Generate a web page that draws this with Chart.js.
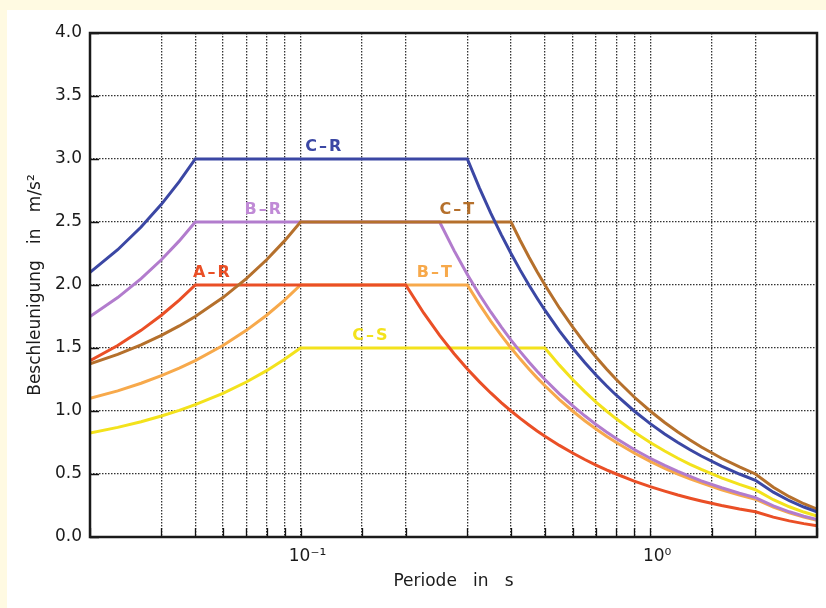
<!DOCTYPE html>
<html>
<head>
<meta charset="utf-8">
<script src="https://cdn.jsdelivr.net/npm/chart.js@4"></script>
<style>
  html, body { margin: 0; padding: 0; }
  body { width: 826px; height: 608px; background: #fffae2; position: relative; overflow: hidden; }
  #panel { position: absolute; left: 7px; top: 10px; width: 819px; height: 598px; background: #ffffff; }
</style>
</head>
<body>
<div id="panel"><canvas id="spectrumChart"></canvas></div>
<script>
// periods in s
const periods = [0.025, 0.03, 0.035, 0.04, 0.045, 0.05, 0.06, 0.07, 0.08, 0.09, 0.1,
  0.15, 0.2,
  0.225, 0.25, 0.275, 0.3,
  0.325, 0.35, 0.375, 0.4,
  0.425, 0.45, 0.475, 0.5,
  0.55, 0.6, 0.65, 0.7, 0.75, 0.8,
  0.9, 1.0, 1.1, 1.2, 1.3, 1.4,
  1.6, 1.8, 2.0,
  2.25, 2.5, 2.75, 3.0];

// acceleration in m/s^2, one array per ground combination
const accAR = [1.40, 1.52, 1.64, 1.76, 1.88, 2.00, 2.00, 2.00, 2.00, 2.00, 2.00,
  2.00, 2.00,
  1.778, 1.600, 1.455, 1.333,
  1.231, 1.143, 1.067, 1.000,
  0.941, 0.889, 0.842, 0.800,
  0.727, 0.667, 0.615, 0.571, 0.533, 0.500,
  0.444, 0.400, 0.364, 0.333, 0.308, 0.286,
  0.250, 0.222, 0.200,
  0.158, 0.128, 0.106, 0.089];
const accBR = [1.75, 1.90, 2.05, 2.20, 2.35, 2.50, 2.50, 2.50, 2.50, 2.50, 2.50,
  2.50, 2.50,
  2.50, 2.50, 2.273, 2.083,
  1.923, 1.786, 1.667, 1.563,
  1.471, 1.389, 1.316, 1.250,
  1.136, 1.042, 0.962, 0.893, 0.833, 0.781,
  0.694, 0.625, 0.568, 0.521, 0.481, 0.446,
  0.391, 0.347, 0.313,
  0.247, 0.200, 0.165, 0.139];
const accCR = [2.10, 2.28, 2.46, 2.64, 2.82, 3.00, 3.00, 3.00, 3.00, 3.00, 3.00,
  3.00, 3.00,
  3.00, 3.00, 3.00, 3.00,
  2.769, 2.571, 2.400, 2.250,
  2.118, 2.000, 1.895, 1.800,
  1.636, 1.500, 1.385, 1.286, 1.200, 1.125,
  1.000, 0.900, 0.818, 0.750, 0.692, 0.643,
  0.563, 0.500, 0.450,
  0.356, 0.288, 0.238, 0.200];
const accBT = [1.10, 1.16, 1.22, 1.28, 1.34, 1.40, 1.52, 1.64, 1.76, 1.88, 2.00,
  2.00, 2.00,
  2.00, 2.00, 2.00, 2.00,
  1.846, 1.714, 1.600, 1.500,
  1.412, 1.333, 1.263, 1.200,
  1.091, 1.000, 0.923, 0.857, 0.800, 0.750,
  0.667, 0.600, 0.545, 0.500, 0.462, 0.429,
  0.375, 0.333, 0.300,
  0.237, 0.192, 0.159, 0.133];
const accCT = [1.375, 1.45, 1.525, 1.60, 1.675, 1.75, 1.90, 2.05, 2.20, 2.35, 2.50,
  2.50, 2.50,
  2.50, 2.50, 2.50, 2.50,
  2.50, 2.50, 2.50, 2.50,
  2.353, 2.222, 2.105, 2.000,
  1.818, 1.667, 1.538, 1.429, 1.333, 1.250,
  1.111, 1.000, 0.909, 0.833, 0.769, 0.714,
  0.625, 0.556, 0.500,
  0.395, 0.320, 0.264, 0.222];
const accCS = [0.825, 0.87, 0.915, 0.96, 1.005, 1.05, 1.14, 1.23, 1.32, 1.41, 1.50,
  1.50, 1.50,
  1.50, 1.50, 1.50, 1.50,
  1.50, 1.50, 1.50, 1.50,
  1.50, 1.50, 1.50, 1.50,
  1.364, 1.250, 1.154, 1.071, 1.000, 0.938,
  0.833, 0.750, 0.682, 0.625, 0.577, 0.536,
  0.469, 0.417, 0.375,
  0.296, 0.240, 0.198, 0.167];

const seriesNames = ['C–R', 'C–T', 'B–R', 'A–R', 'B–T', 'C–S'];
const seriesValues = [accCR, accCT, accBR, accAR, accBT, accCS];
const seriesColors = ['#3b47a4', '#b5702c', '#b27ccd', '#ea4f26', '#f7a94b', '#f3e21c'];
const labelColors = ['#3b47a4', '#b5702c', '#c08ad6', '#ea4f26', '#f7a94b', '#f3e21c'];
// period where each curve name is written above its plateau
const labelPeriods = [0.117, 0.282, 0.0785, 0.056, 0.243, 0.159];

const yTicks = [0, 0.5, 1, 1.5, 2, 2.5, 3, 3.5, 4];

const FONT = '"DejaVu Sans", "Liberation Sans", sans-serif';

const frame = {
  id: 'frame',
  afterDraw(chart) {
    const {ctx, chartArea: a, scales} = chart;
    ctx.save();
    // short solid tick marks inside the plot
    ctx.strokeStyle = '#111';
    ctx.lineWidth = 1.3;
    ctx.beginPath();
    scales.x.ticks.forEach(t => {
      const px = Math.round(scales.x.getPixelForValue(t.value)) + 0.5;
      ctx.moveTo(px, a.bottom);
      ctx.lineTo(px, a.bottom - 9);
    });
    yTicks.forEach(v => {
      const py = Math.round(scales.y.getPixelForValue(v)) + 0.5;
      ctx.moveTo(a.left, py);
      ctx.lineTo(a.left + 9, py);
    });
    ctx.stroke();
    // box
    ctx.lineWidth = 2.5;
    ctx.strokeStyle = '#1a1a1a';
    ctx.strokeRect(a.left, a.top, a.right - a.left, a.bottom - a.top);
    // curve names
    ctx.font = 'bold 16px ' + FONT;
    ctx.textAlign = 'center';
    ctx.textBaseline = 'middle';
    if ('letterSpacing' in ctx) ctx.letterSpacing = '2px';
    seriesNames.forEach((name, i) => {
      const x = scales.x.getPixelForValue(labelPeriods[i]);
      const y = scales.y.getPixelForValue(Math.max(...seriesValues[i]));
      ctx.fillStyle = labelColors[i];
      ctx.fillText(name, x, y - 12);
    });
    ctx.restore();
  }
};

const ctx = document.getElementById('spectrumChart').getContext('2d');
const chart = new Chart(ctx, {
  type: 'line',
  data: {
    datasets: seriesNames.map((name, i) => ({
      label: name,
      data: periods.map((t, j) => ({x: t, y: seriesValues[i][j]})),
      borderColor: seriesColors[i],
      borderWidth: 3,
      pointRadius: 0,
      tension: 0,
      fill: false
    }))
  },
  options: {
    responsive: true,
    maintainAspectRatio: false,
    animation: false,
    layout: {padding: {top: 23, right: 4, left: 0, bottom: 0}},
    plugins: {
      legend: {display: false},
      tooltip: {enabled: false}
    },
    scales: {
      x: {
        type: 'logarithmic',
        min: 0.025,
        max: 3,
        border: {display: false, dash: [1.5, 1.5]},
        grid: {color: '#333', lineWidth: 1.3, drawTicks: false},
        ticks: {
          autoSkip: false,
          maxRotation: 0,
          padding: 9,
          labelOffset: 7,
          color: '#1a1a1a',
          font: {family: FONT, size: 17},
          callback: v => v === 0.1 ? '10⁻¹' : (v === 1 ? '10⁰' : '')
        },
        title: {
          display: true,
          text: 'Periode   in   s',
          color: '#1a1a1a',
          font: {family: FONT, size: 17},
          padding: {top: 0, bottom: 16}
        },
        afterFit: scale => { scale.height = 71; }
      },
      y: {
        min: 0,
        max: 4,
        border: {display: false, dash: [1.5, 1.5]},
        grid: {color: '#333', lineWidth: 1.3, drawTicks: false},
        afterBuildTicks: scale => { scale.ticks = yTicks.map(v => ({value: v})); },
        ticks: {
          padding: 8,
          color: '#1a1a1a',
          font: {family: FONT, size: 17},
          callback: v => Number(v).toFixed(1)
        },
        title: {
          display: true,
          text: 'Beschleunigung   in   m/s²',
          color: '#1a1a1a',
          font: {family: FONT, size: 17},
          padding: {top: 18, bottom: 0}
        },
        afterFit: scale => { scale.width = 83; }
      }
    }
  },
  plugins: [frame]
});
</script>
</body>
</html>
